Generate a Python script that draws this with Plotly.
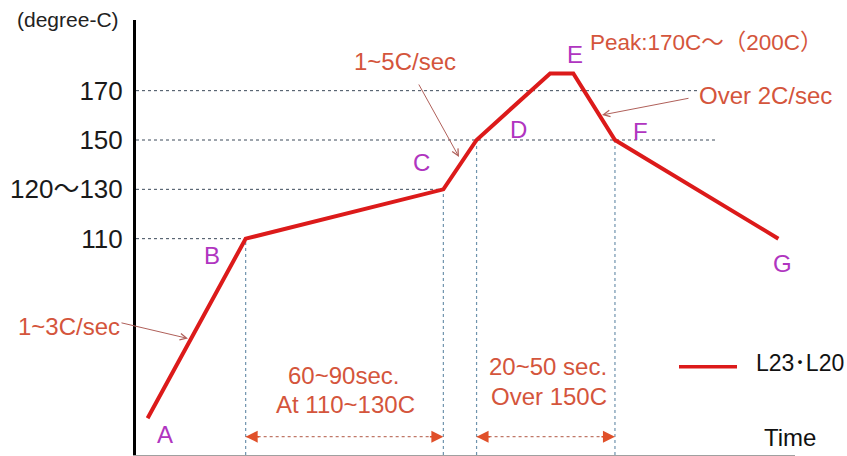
import plotly.graph_objects as go

# ---------------- data ----------------
series_name = "L23･L20"
time_s = [4.4, 41.6, 116.6, 129.2, 157.1, 165.9, 181.7, 243.7]
temp_c = [37.2, 110, 130, 150, 177, 177, 150, 110]
point_labels = ["A", "B", "C", "D", "", "E", "F", "G"]
ytick_vals = [110, 130, 150, 170]
ytick_text = ["110", "120～130", "150", "170"]

# ---------------- layout helpers ----------------
X_RANGE = [0, 250]
Y_RANGE = [22.3, 198.65]
W, H = 847, 456
ML, MR, MT, MB = 136, 52, 20, 1
PW, PH = W - ML - MR, H - MT - MB


def px_x(px):
    return X_RANGE[0] + (px - ML) / PW * (X_RANGE[1] - X_RANGE[0])


def px_y(py):
    return Y_RANGE[1] - (py - MT) / PH * (Y_RANGE[1] - Y_RANGE[0])


def paper_x(px):
    return (px - ML) / PW


def paper_y(py):
    return (H - MB - py) / PH


FONT = "Liberation Sans, Arial, Noto Sans CJK JP, sans-serif"
RED = "#dc1a1a"
NOTE = "#d4553c"
LETTER = "#b035c0"
ARROW = "#b0605a"

fig = go.Figure()
fig.add_trace(go.Scatter(
    x=time_s, y=temp_c, mode="lines", name=series_name,
    line=dict(color=RED, width=4), showlegend=False, hoverinfo="skip",
))

shapes = []
# horizontal guides
h_ends = {110: time_s[1], 130: time_s[2], 150: px_x(715), 170: px_x(698)}
for tv in ytick_vals:
    shapes.append(dict(type="line", xref="x", yref="y", x0=X_RANGE[0], x1=h_ends[tv],
                       y0=tv, y1=tv, layer="below",
                       line=dict(color="#3c4a5a", width=1, dash="dot")))
# vertical guides
for i in [1, 2, 3, 6]:
    shapes.append(dict(type="line", xref="x", yref="y", x0=time_s[i], x1=time_s[i],
                       y0=Y_RANGE[0], y1=temp_c[i], layer="below",
                       line=dict(color="#6f93ad", width=1.2, dash="dot")))
# duration double-arrow lines
y_dur = px_y(436.7)
for a, b in [(1, 2), (3, 6)]:
    shapes.append(dict(type="line", xref="x", yref="y", x0=time_s[a], x1=time_s[b],
                       y0=y_dur, y1=y_dur, layer="below",
                       line=dict(color="#c07868", width=1.2, dash="dot")))
# manual legend sample
shapes.append(dict(type="line", xref="paper", yref="paper", x0=paper_x(679), x1=paper_x(737),
                   y0=paper_y(366.7), y1=paper_y(366.7), line=dict(color=RED, width=3.5)))

ann = []
# point letters
offsets = {"A": (17, 16), "B": (-34, 17), "C": (-22, -26.5), "D": (42, -11),
           "E": (2, -19), "F": (26, -9), "G": (4, 25)}
for t, v, lab in zip(time_s, temp_c, point_labels):
    if not lab:
        continue
    dx, dy = offsets[lab]
    ann.append(dict(x=t, y=v, text=lab, showarrow=False, xshift=dx, yshift=-dy,
                    font=dict(family=FONT, size=24, color=LETTER)))

# duration arrowheads
for a, b in [(1, 2), (3, 6)]:
    for idx, sgn in [(a, 15), (b, -15)]:
        ann.append(dict(x=time_s[idx], y=y_dur, ax=sgn, ay=0, axref="pixel", ayref="pixel",
                        text="", showarrow=True, arrowhead=2, arrowsize=1.6, arrowwidth=1.5,
                        arrowcolor="#e0502a", standoff=0))

# rate arrows (tip, tail offset in px)
for tip_px, tail_off in [((188, 338.5), (-68, -16)), ((459, 157), (-41, -74)),
                          ((602, 115), (88, -17))]:
    ann.append(dict(x=px_x(tip_px[0]), y=px_y(tip_px[1]), ax=tail_off[0], ay=tail_off[1],
                    axref="pixel", ayref="pixel", text="", showarrow=True,
                    arrowhead=5, arrowsize=1.3, arrowwidth=1, arrowcolor=ARROW, standoff=0))

# text notes
notes = [
    ("1~3C/sec", 69, 326, NOTE, 24, "center"),
    ("1~5C/sec", 405, 62, NOTE, 24, "center"),
    ("Over 2C/sec", 765, 95, NOTE, 24, "center"),
    ("Peak:170C～（200C）", 706, 43, NOTE, 22.5, "center"),
    ("60~90sec.", 343, 376, NOTE, 24, "center"),
    ("At 110~130C", 345, 404, NOTE, 24, "center"),
    ("20~50 sec.", 548, 366, NOTE, 24, "center"),
    ("Over 150C", 549, 396, NOTE, 24, "center"),
    ("Time", 790, 437, "#111111", 24, "center"),
    ("(degree-C)", 68, 19, "#222222", 21, "center"),
]
for txt, x, y, col, sz, al in notes:
    ann.append(dict(xref="paper", yref="paper", x=paper_x(x), y=paper_y(y), text=txt,
                    showarrow=False, xanchor=al, yanchor="middle",
                    font=dict(family=FONT, size=sz, color=col)))
# manual legend text
ann.append(dict(xref="paper", yref="paper", x=paper_x(754), y=paper_y(363), text=series_name,
                showarrow=False, xanchor="left", yanchor="middle",
                font=dict(family=FONT, size=23, color="#111111")))

fig.update_layout(
    width=W, height=H,
    margin=dict(l=ML, r=MR, t=MT, b=MB, pad=0),
    paper_bgcolor="white", plot_bgcolor="white",
    showlegend=False,
    shapes=shapes, annotations=ann,
    xaxis=dict(range=X_RANGE, showgrid=False, zeroline=False, showticklabels=False,
               ticks="", showline=True, linecolor="#a0a0a0", linewidth=1.5, fixedrange=True),
    yaxis=dict(range=Y_RANGE, showgrid=False, zeroline=False, tickmode="array",
               tickvals=ytick_vals, ticktext=ytick_text, ticks="", ticklabelstandoff=5,
               tickfont=dict(family=FONT, size=26, color="#1a1a1a"),
               showline=True, linecolor="black", linewidth=3, fixedrange=True),
)

fig.write_html("out.html", config={"displayModeBar": False},
               post_script="document.body.style.margin='0px';")
